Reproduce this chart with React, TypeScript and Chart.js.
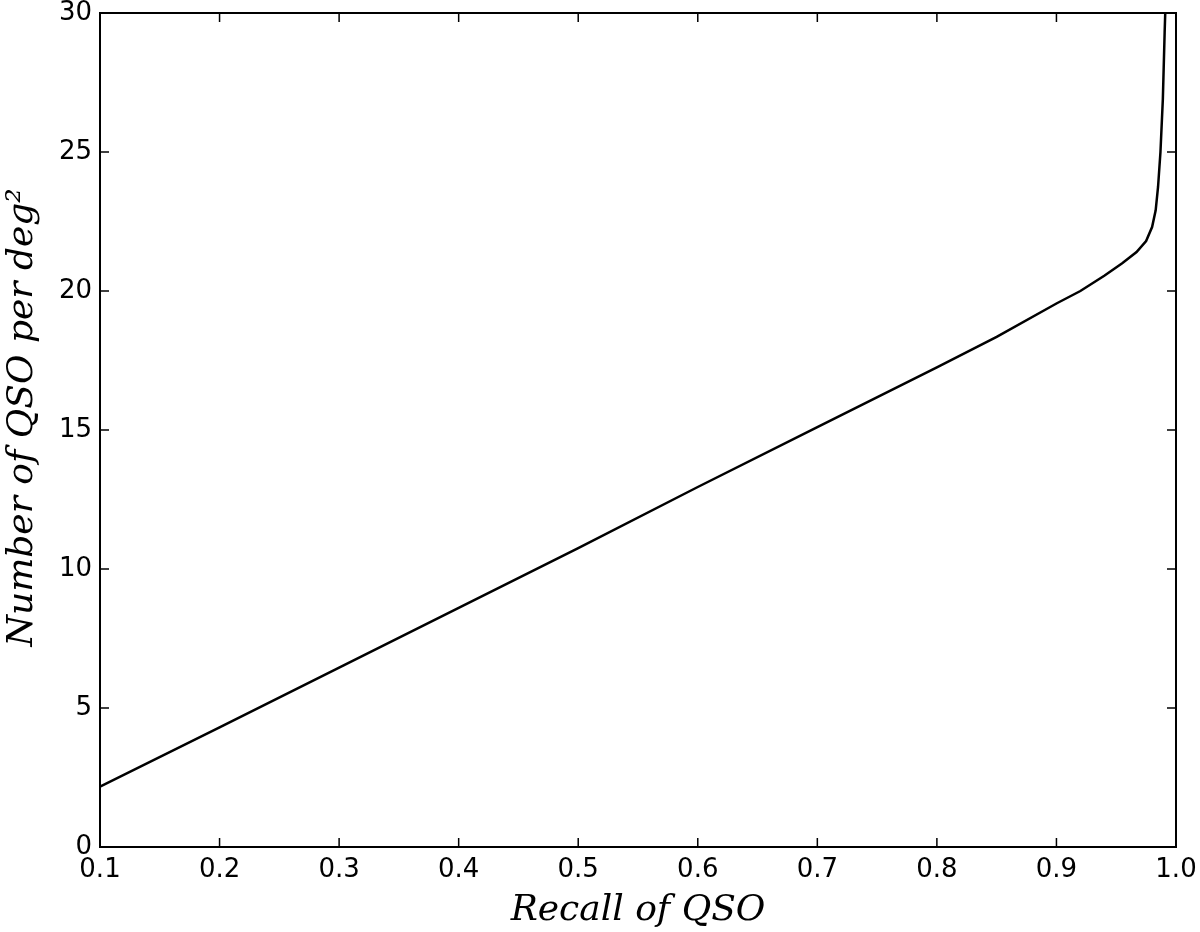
import React, { useEffect, useRef } from "react";
import { Chart, registerables } from "chart.js";

Chart.register(...registerables);

// Recall of QSO (x) vs number of QSO per deg^2 (y)
const recall = [
  0.1, 0.2, 0.3, 0.4, 0.5, 0.6, 0.7, 0.8, 0.85, 0.9, 0.92, 0.94, 0.955, 0.967,
  0.975, 0.98, 0.983, 0.985, 0.987, 0.989, 0.9905, 0.991,
];
const density = [
  2.17, 4.3, 6.45, 8.6, 10.75, 12.95, 15.1, 17.25, 18.35, 19.55, 20.0, 20.55,
  21.0, 21.4, 21.8, 22.3, 22.9, 23.75, 25.0, 26.9, 29.3, 30.0,
];
const xTicks = [0.1, 0.2, 0.3, 0.4, 0.5, 0.6, 0.7, 0.8, 0.9, 1.0];
const yTicks = [0, 5, 10, 15, 20, 25, 30];

const xTitle = "Recall of QSO";
const yTitle = "\u2002\u2009Number of QSO per deg\u00B2";

const framePlugin = {
  id: "frame",
  afterDraw(chart: any) {
    const { ctx, chartArea, scales } = chart;
    const { left, right, top, bottom } = chartArea;
    const xs = scales.x;
    const ys = scales.y;
    ctx.save();
    ctx.strokeStyle = "#000";
    ctx.lineWidth = 1.5;
    const len = 9;
    xs.ticks.forEach((t: any) => {
      const px = xs.getPixelForValue(t.value);
      ctx.beginPath();
      ctx.moveTo(px, bottom);
      ctx.lineTo(px, bottom - len);
      ctx.moveTo(px, top);
      ctx.lineTo(px, top + len);
      ctx.stroke();
    });
    ys.ticks.forEach((t: any) => {
      const py = ys.getPixelForValue(t.value);
      ctx.beginPath();
      ctx.moveTo(left, py);
      ctx.lineTo(left + len, py);
      ctx.moveTo(right, py);
      ctx.lineTo(right - len, py);
      ctx.stroke();
    });
    ctx.lineWidth = 2;
    ctx.strokeRect(left, top, right - left, bottom - top);
    ctx.restore();
  },
};

export default function App() {
  const ref = useRef<HTMLCanvasElement | null>(null);

  useEffect(() => {
    if (!ref.current) return;
    const points = recall.map((r, i) => ({ x: r, y: density[i] }));
    const chart = new Chart(ref.current, {
      type: "line",
      data: {
        datasets: [
          {
            data: points,
            borderColor: "#000",
            borderWidth: 2.5,
            pointRadius: 0,
            tension: 0,
            fill: false,
          },
        ],
      },
      options: {
        animation: false,
        responsive: false,
        devicePixelRatio: 1,
        layout: { padding: { top: 13, right: 24, left: 0, bottom: 0 } },
        plugins: { legend: { display: false }, tooltip: { enabled: false } },
        scales: {
          x: {
            type: "linear",
            min: 0.1,
            max: 1.0,
            afterBuildTicks: (scale: any) => {
              scale.ticks = xTicks.map((v) => ({ value: v }));
            },
            afterFit: (scale: any) => {
              scale.height = 85;
              scale.paddingLeft = 0;
              scale.paddingRight = 0;
            },
            grid: { display: false, drawTicks: false },
            border: { display: false },
            ticks: {
              autoSkip: false,
              maxRotation: 0,
              padding: 8,
              color: "#000",
              font: { family: "DejaVu Sans", size: 26 },
              callback: (v: any) => Number(v).toFixed(1),
            },
            title: {
              display: true,
              text: xTitle,
              color: "#000",
              font: { family: "DejaVu Serif", style: "italic", size: 36 },
              padding: { top: 0, bottom: 0 },
            },
          },
          y: {
            type: "linear",
            min: 0,
            max: 30,
            afterBuildTicks: (scale: any) => {
              scale.ticks = yTicks.map((v) => ({ value: v }));
            },
            afterFit: (scale: any) => {
              scale.width = 100;
              scale.paddingTop = 0;
              scale.paddingBottom = 0;
            },
            grid: { display: false, drawTicks: false },
            border: { display: false },
            ticks: {
              autoSkip: false,
              padding: 8,
              color: "#000",
              font: { family: "DejaVu Sans", size: 26 },
              callback: (v: any) => String(v),
            },
            title: {
              display: true,
              text: yTitle,
              color: "#000",
              font: { family: "DejaVu Serif", style: "italic", size: 36 },
              padding: { top: 1, bottom: 0 },
            },
          },
        },
      },
      plugins: [framePlugin],
    });
    return () => chart.destroy();
  }, []);

  return (
    <div
      style={{
        position: "fixed",
        left: 0,
        top: 0,
        width: 1200,
        height: 932,
        background: "#fff",
      }}
    >
      <canvas ref={ref} width={1200} height={932} />
    </div>
  );
}
